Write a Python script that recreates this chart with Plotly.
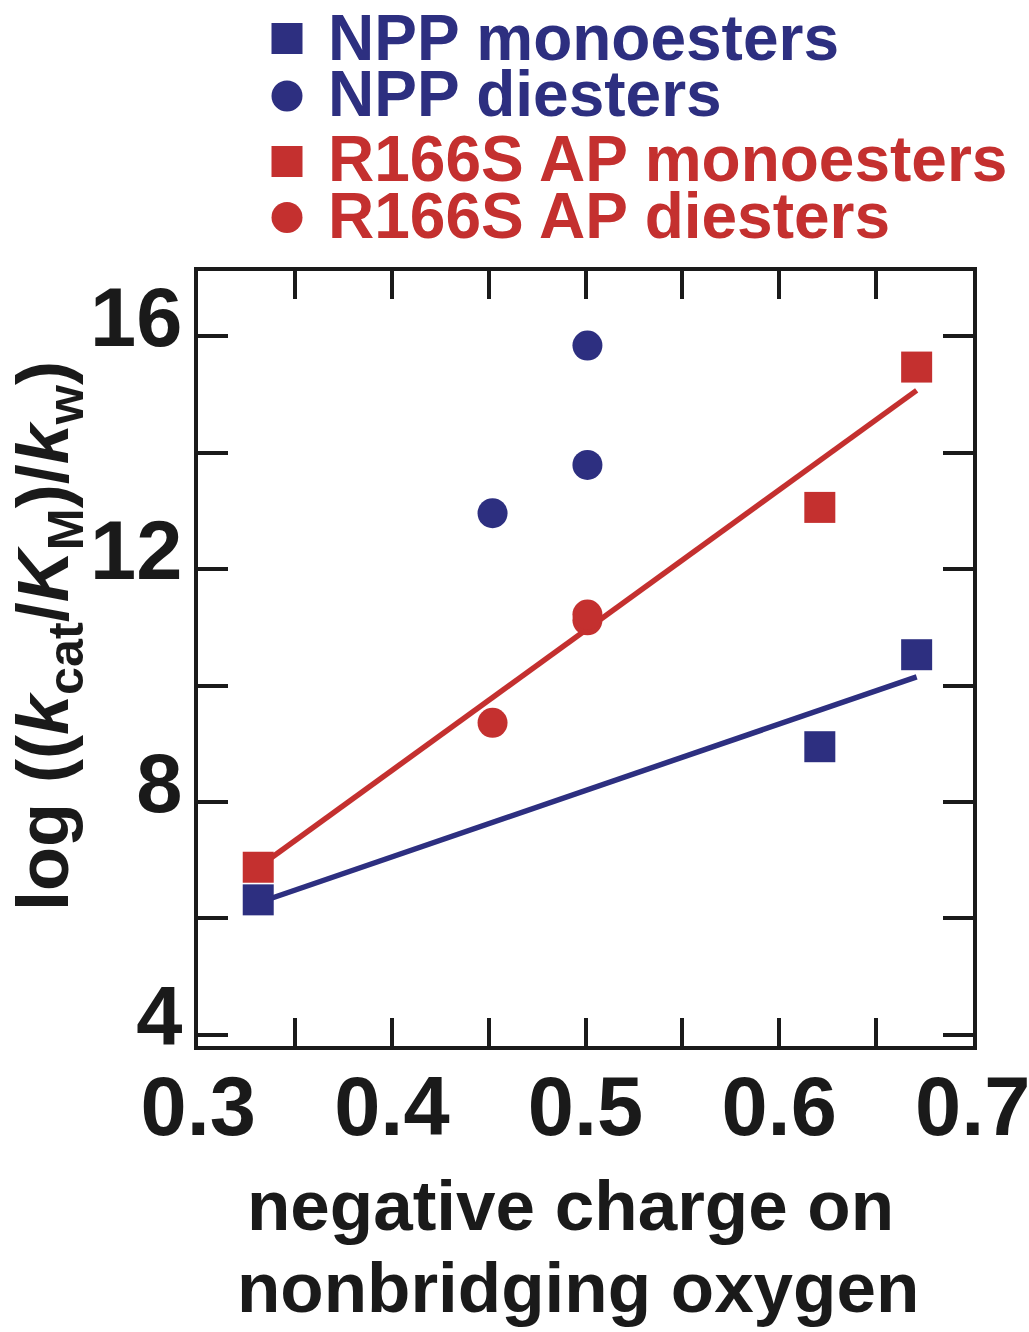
import plotly.graph_objects as go

# ---- data ----
npp_mono_x = [0.331, 0.621, 0.671]
npp_mono_y = [6.32, 8.95, 10.53]
npp_di_x = [0.452, 0.501, 0.501]
npp_di_y = [12.96, 15.84, 13.79]
r166s_mono_x = [0.331, 0.621, 0.671]
r166s_mono_y = [6.88, 13.06, 15.47]
r166s_di_x = [0.452, 0.501, 0.501]
r166s_di_y = [9.36, 11.12, 11.22]
npp_fit_x = [0.331, 0.671]
npp_fit_y = [6.27, 10.15]
r166s_fit_x = [0.331, 0.671]
r166s_fit_y = [6.88, 15.07]

legend_labels = ["NPP monoesters", "NPP diesters", "R166S AP monoesters", "R166S AP diesters"]
legend_symbols = ["square", "circle", "square", "circle"]
x_tick_vals = [0.3, 0.4, 0.5, 0.6, 0.7]
x_tick_text = ["0.3", "0.4", "0.5", "0.6", "0.7"]
y_tick_vals = [4, 8, 12, 16]
y_tick_text = ["4", "8", "12", "16"]

BLUE = "#2d2f80"
RED = "#c4302f"
INK = "#1a1a1a"
FONT = "Liberation Sans, Arial, sans-serif"

# page body margin is removed (post_script), so figure fills the window exactly
OFF = 0
W, H = 1029, 1332
L, R, T, B = 198, 56, 271, 286
PW, PH = W - L - R, H - T - B


def px(xs):
    return (xs - OFF - L) / PW


def py(ys):
    return (H - B - (ys - OFF)) / PH


fig = go.Figure()
fig.add_trace(go.Scatter(x=r166s_fit_x, y=r166s_fit_y, mode="lines",
                         line=dict(color=RED, width=5.5), showlegend=False))
fig.add_trace(go.Scatter(x=npp_fit_x, y=npp_fit_y, mode="lines",
                         line=dict(color=BLUE, width=5.5), showlegend=False))
fig.add_trace(go.Scatter(x=r166s_mono_x, y=r166s_mono_y, mode="markers",
                         marker=dict(symbol="square", size=31, color=RED), name=legend_labels[2], showlegend=False))
fig.add_trace(go.Scatter(x=npp_mono_x, y=npp_mono_y, mode="markers",
                         marker=dict(symbol="square", size=31, color=BLUE), name=legend_labels[0], showlegend=False))
fig.add_trace(go.Scatter(x=npp_di_x, y=npp_di_y, mode="markers",
                         marker=dict(symbol="circle", size=30, color=BLUE), name=legend_labels[1], showlegend=False))
fig.add_trace(go.Scatter(x=r166s_di_x, y=r166s_di_y, mode="markers",
                         marker=dict(symbol="circle", size=30, color=RED), name=legend_labels[3], showlegend=False))

# ---- hand-built legend ----
legend_colors = [BLUE, BLUE, RED, RED]
legend_icon_rows = [38.5, 96, 161.5, 217.5]
legend_text_rows = [38, 94, 159, 216]
shapes = []
annotations = []
for lab, sym, col, yc, yt in zip(legend_labels, legend_symbols, legend_colors, legend_icon_rows, legend_text_rows):
    half = 15.5
    shapes.append(dict(type="rect" if sym == "square" else "circle", xref="paper", yref="paper",
                       x0=px(287 - half), x1=px(287 + half), y0=py(yc + half), y1=py(yc - half),
                       fillcolor=col, line=dict(width=0), layer="above"))
    annotations.append(dict(text=lab, xref="paper", yref="paper", x=px(326), y=py(yt),
                            xanchor="left", yanchor="middle", showarrow=False,
                            font=dict(family=FONT, size=64, color=col, weight="bold")))

# axis titles
annotations.append(dict(text="log ((<i>k</i><sub>cat</sub>/<i>K</i><sub>M</sub>)/<i>k</i><sub>w</sub>)",
                        xref="paper", yref="paper", x=px(48), y=py(636), textangle=-90,
                        xanchor="center", yanchor="middle", showarrow=False,
                        font=dict(family=FONT, size=72, color=INK, weight="bold")))
for line_text, xc, ym in [("negative charge on", 570, 1205), ("nonbridging oxygen", 578, 1287)]:
    annotations.append(dict(text=line_text, xref="paper", yref="paper", x=px(xc), y=py(ym),
                            xanchor="center", yanchor="middle", showarrow=False,
                            font=dict(family=FONT, size=71, color=INK, weight="bold")))

axis_common = dict(showline=True, linewidth=4, linecolor=INK, mirror="ticks",
                   ticks="inside", tickwidth=4, tickcolor=INK, showgrid=False, zeroline=False,
                   ticklabeloverflow="allow",
                   tickfont=dict(family=FONT, size=83, color=INK, weight="bold"))

fig.update_xaxes(range=[0.2999, 0.7001], tickmode="array", tickvals=x_tick_vals, ticktext=x_tick_text,
                 ticklen=28, ticklabelstandoff=-15,
                 minor=dict(dtick=0.05, tick0=0.3, ticks="inside", ticklen=28, tickwidth=4, tickcolor=INK, showgrid=False),
                 **axis_common)
fig.update_yaxes(range=[3.81, 17.12], tickmode="array", tickvals=y_tick_vals, ticktext=y_tick_text,
                 ticklen=30, ticklabelstandoff=-5, ticklabelshift=-19,
                 minor=dict(dtick=2, tick0=4, ticks="inside", ticklen=30, tickwidth=4, tickcolor=INK, showgrid=False),
                 **axis_common)

fig.update_layout(width=W, height=H, margin=dict(l=L, r=R, t=T, b=B, autoexpand=False),
                  paper_bgcolor="white", plot_bgcolor="white",
                  shapes=shapes, annotations=annotations, showlegend=False)

fig.write_html("out.html", config={"displayModeBar": False},
               post_script="document.body.style.margin='0';document.body.style.overflow='hidden';")
